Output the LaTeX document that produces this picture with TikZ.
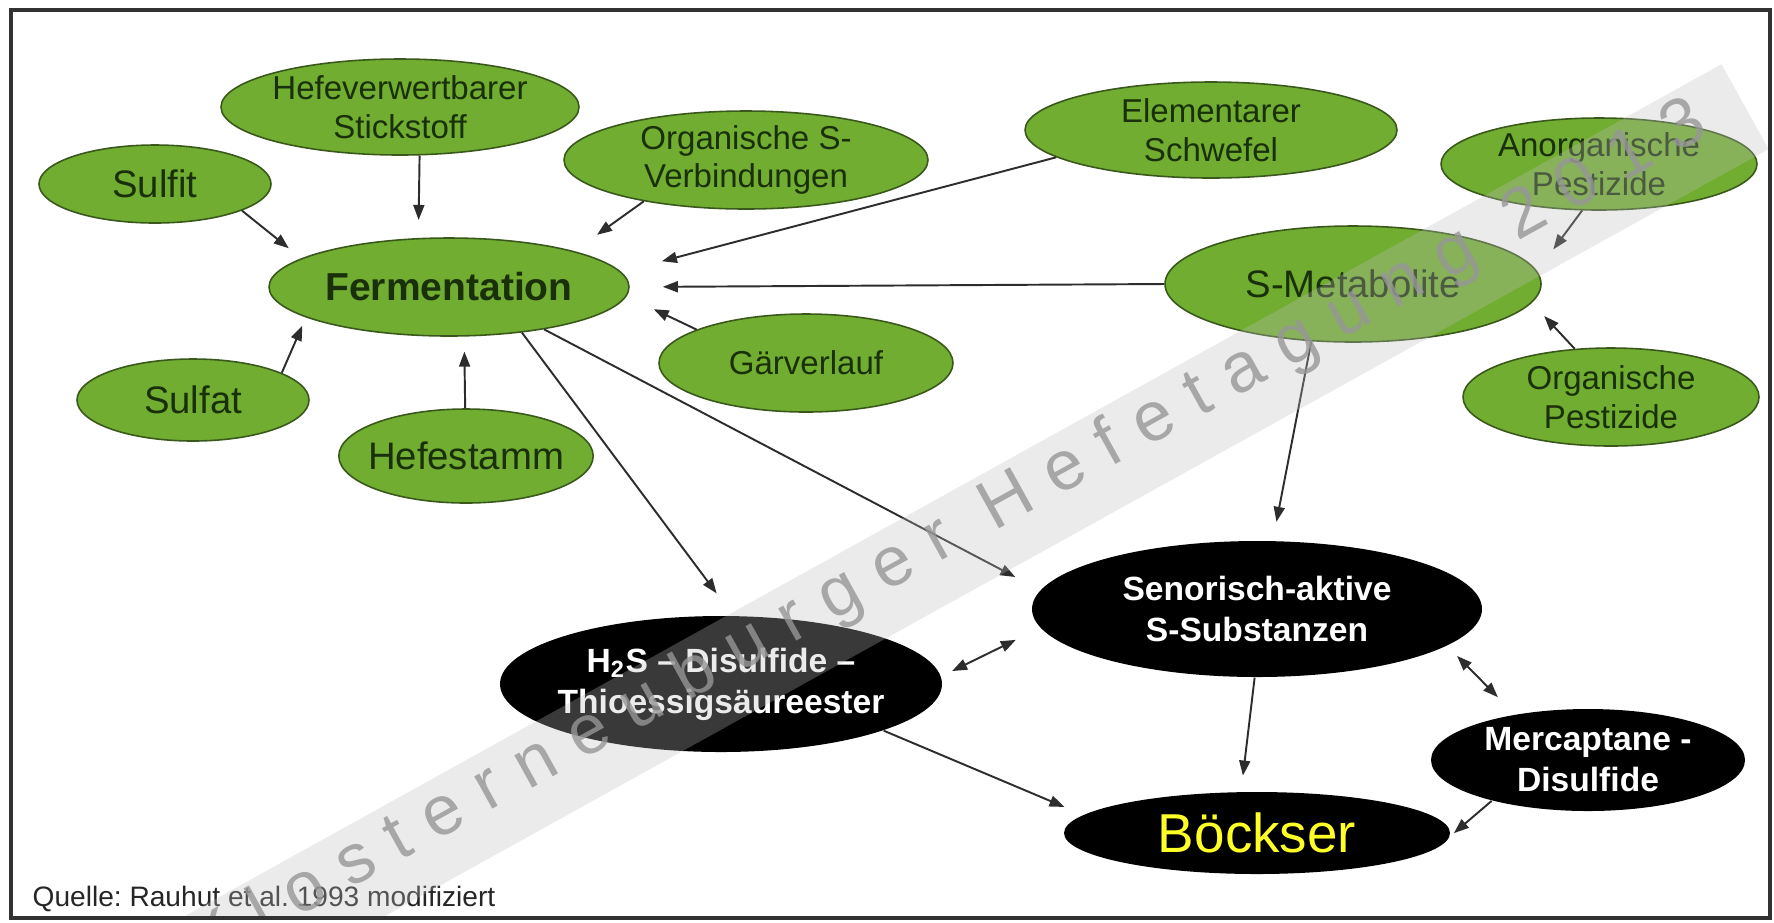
\documentclass[tikz,border=0pt]{standalone}
\usepackage{fontspec}
\setmainfont{Liberation Sans}
\newfontfamily\wmfont[LetterSpace=31]{Liberation Sans}
\usepackage{xcolor}
\usetikzlibrary{shapes.geometric, arrows.meta}

\definecolor{gfill}{RGB}{112,173,48}
\definecolor{gborder}{RGB}{58,88,28}
\definecolor{gtext}{RGB}{26,48,10}
\definecolor{linegray}{RGB}{45,45,45}
\definecolor{framegray}{RGB}{50,50,50}
\definecolor{boeckyellow}{RGB}{255,255,40}
\definecolor{wmgray}{RGB}{150,150,150}
\definecolor{bandgray}{RGB}{190,190,190}

\newcommand{\fontMain}{\fontsize{11.1pt}{13pt}\selectfont}
\newcommand{\fontBig}{\fontsize{10.9pt}{12.7pt}\selectfont}
\newcommand{\fontSub}{\fontsize{9.4pt}{10.95pt}\selectfont}
\newcommand{\fontBlack}{\fontsize{9.56pt}{11.7pt}\selectfont}
\newcommand{\fontBoeck}{\fontsize{15.6pt}{18pt}\selectfont}
\newcommand{\fontSrc}{\fontsize{8pt}{9.6pt}\selectfont}
\newcommand{\fontWm}{\fontsize{19.9pt}{23pt}\selectfont}

\begin{document}
\begin{tikzpicture}[
  x=0.1mm, y=-0.1mm,
  gnode/.style={ellipse, draw=gborder, line width=0.45pt, fill=gfill, text=gtext, inner sep=-0.8mm, align=center, font=\fontSub},
  bnode/.style={ellipse, fill=black, text=white, inner sep=-0.8mm, align=center, font=\fontBlack\bfseries},
  arr/.style={-{Triangle[length=1.5mm, width=1.1mm]}, draw=linegray, fill=linegray, line width=0.55pt},
  darr/.style={{Triangle[length=1.5mm, width=1.1mm]}-{Triangle[length=1.5mm, width=1.1mm]}, draw=linegray, fill=linegray, line width=0.55pt},
  wmband/.style={fill=bandgray, opacity=0.3},
  wmtext/.style={text=wmgray, text opacity=0.8, font=\wmfont\fontWm, inner sep=0pt}
]
  \useasboundingbox (0,0) rectangle (1774,922);
  \fill[white] (0,0) rectangle (1774,922);

  % Einflussgroessen
  \node[gnode, minimum width=35.8mm, minimum height=9.6mm] (stick) at (400,107) {Hefeverwertbarer\\Stickstoff};
  \node[gnode, minimum width=23.2mm, minimum height=7.8mm, font=\fontBig] (sulfit) at (155,184) {Sulfit};
  \node[gnode, minimum width=36.4mm, minimum height=9.8mm] (orgs) at (746,160) {Organische S-\\Verbindungen};
  \node[gnode, minimum width=37.2mm, minimum height=9.6mm] (elem) at (1211,130) {Elementarer\\Schwefel};
  \node[gnode, minimum width=31.6mm, minimum height=9.2mm] (anorg) at (1599,164) {Anorganische\\Pestizide};
  \node[gnode, minimum width=36mm, minimum height=9.8mm, font=\fontMain\bfseries] (ferm) at (449,287) {Fermentation};
  \node[gnode, minimum width=37.6mm, minimum height=11.6mm, font=\fontBig] (smet) at (1353,284) {S-Metabolite};
  \node[gnode, minimum width=29.4mm, minimum height=9.8mm] (gaer) at (806,363) {Gärverlauf};
  \node[gnode, minimum width=23.2mm, minimum height=8.2mm, font=\fontBig] (sulfat) at (193,400) {Sulfat};
  \node[gnode, minimum width=25.4mm, minimum height=9.4mm, font=\fontBig] (stamm) at (466,456) {Hefestamm};
  \node[gnode, minimum width=29.6mm, minimum height=9.8mm] (orgp) at (1611,397) {Organische\\Pestizide};

  % Schwefelverbindungen
  \node[bnode, minimum width=45mm, minimum height=13.6mm] (senor) at (1257,609) {Senorisch-aktive\\S-Substanzen};
  \node[bnode, minimum width=44.2mm, minimum height=13.6mm] (hs) at (721,684) {H\textsubscript{2}S -- Disulfide --\\Thioessigsäureester};
  \node[bnode, minimum width=31.4mm, minimum height=10.2mm] (merc) at (1588,760) {Mercaptane -\\Disulfide};
  \node[bnode, minimum width=38.6mm, minimum height=8.2mm, font=\fontBoeck, text=boeckyellow] (boeck) at (1257,833) {Böckser};

  \node[anchor=west, inner sep=0pt, text=black!85, font=\fontSrc] (src) at (32,899) {Quelle:\ Rauhut et al.\ 1993 modifiziert};

  % Pfeile zur Fermentation
  \draw[arr, shorten >=1.8mm] (stick.-68) -- (ferm.122);
  \draw[arr, shorten >=1.6mm] (sulfit.-17) -- (ferm.169);
  \draw[arr, shorten >=2.8mm] (orgs.202) -- (ferm.16);
  \draw[arr, shorten >=4.2mm] (elem.190) -- (ferm.5);
  \draw[arr, shorten >=3.3mm] (smet.west) -- (ferm.east);
  \draw[arr, shorten >=3mm] (gaer.163) -- (ferm.-3);
  \draw[arr, shorten >=0.9mm] (sulfat.17) -- (ferm.192);
  \draw[arr, shorten >=1.5mm] (stamm.91) -- (ferm.-73);
  % Pfeile zu den S-Metaboliten
  \draw[arr, shorten >=2.7mm] (anorg.250) -- (smet.4);
  \draw[arr, shorten >=1.8mm] (orgp.127) -- (smet.-6);
  % untere Haelfte
  \draw[arr, shorten >=2.75mm] (ferm.-32) -- (hs.80);
  \draw[arr, shorten >=2.8mm] (ferm.-24) -- (senor.175);
  \draw[arr, shorten >=1.9mm] (smet.234) -- (senor.77);
  \draw[darr, shorten <=1.2mm, shorten >=2.7mm] (hs.2) -- (senor.185);
  \draw[darr, shorten <=1.4mm, shorten >=2.4mm] (senor.-11) -- (merc.148);
  \draw[arr, shorten >=1.6mm] (senor.-92) -- (boeck.111);
  \draw[arr, shorten >=2mm] (hs.-16) -- (boeck.174);
  \draw[arr, shorten >=0.5mm] (merc.203) -- (boeck.-1);

  % Wasserzeichen
  \begin{scope}
    \clip (13,12) rectangle (1768,916);
    \begin{scope}[shift={(929,559)}, rotate=29]
      \fill[wmband] (-2000,-48.5) rectangle (933,48.5);
    \end{scope}
    \node[wmtext, rotate=29] (wm) at (949,536) {Klosterneuburger Hefetagung 2013};
  \end{scope}

  \draw[framegray, line width=0.4mm] (11,10) rectangle (1770,918);
\end{tikzpicture}
\end{document}
